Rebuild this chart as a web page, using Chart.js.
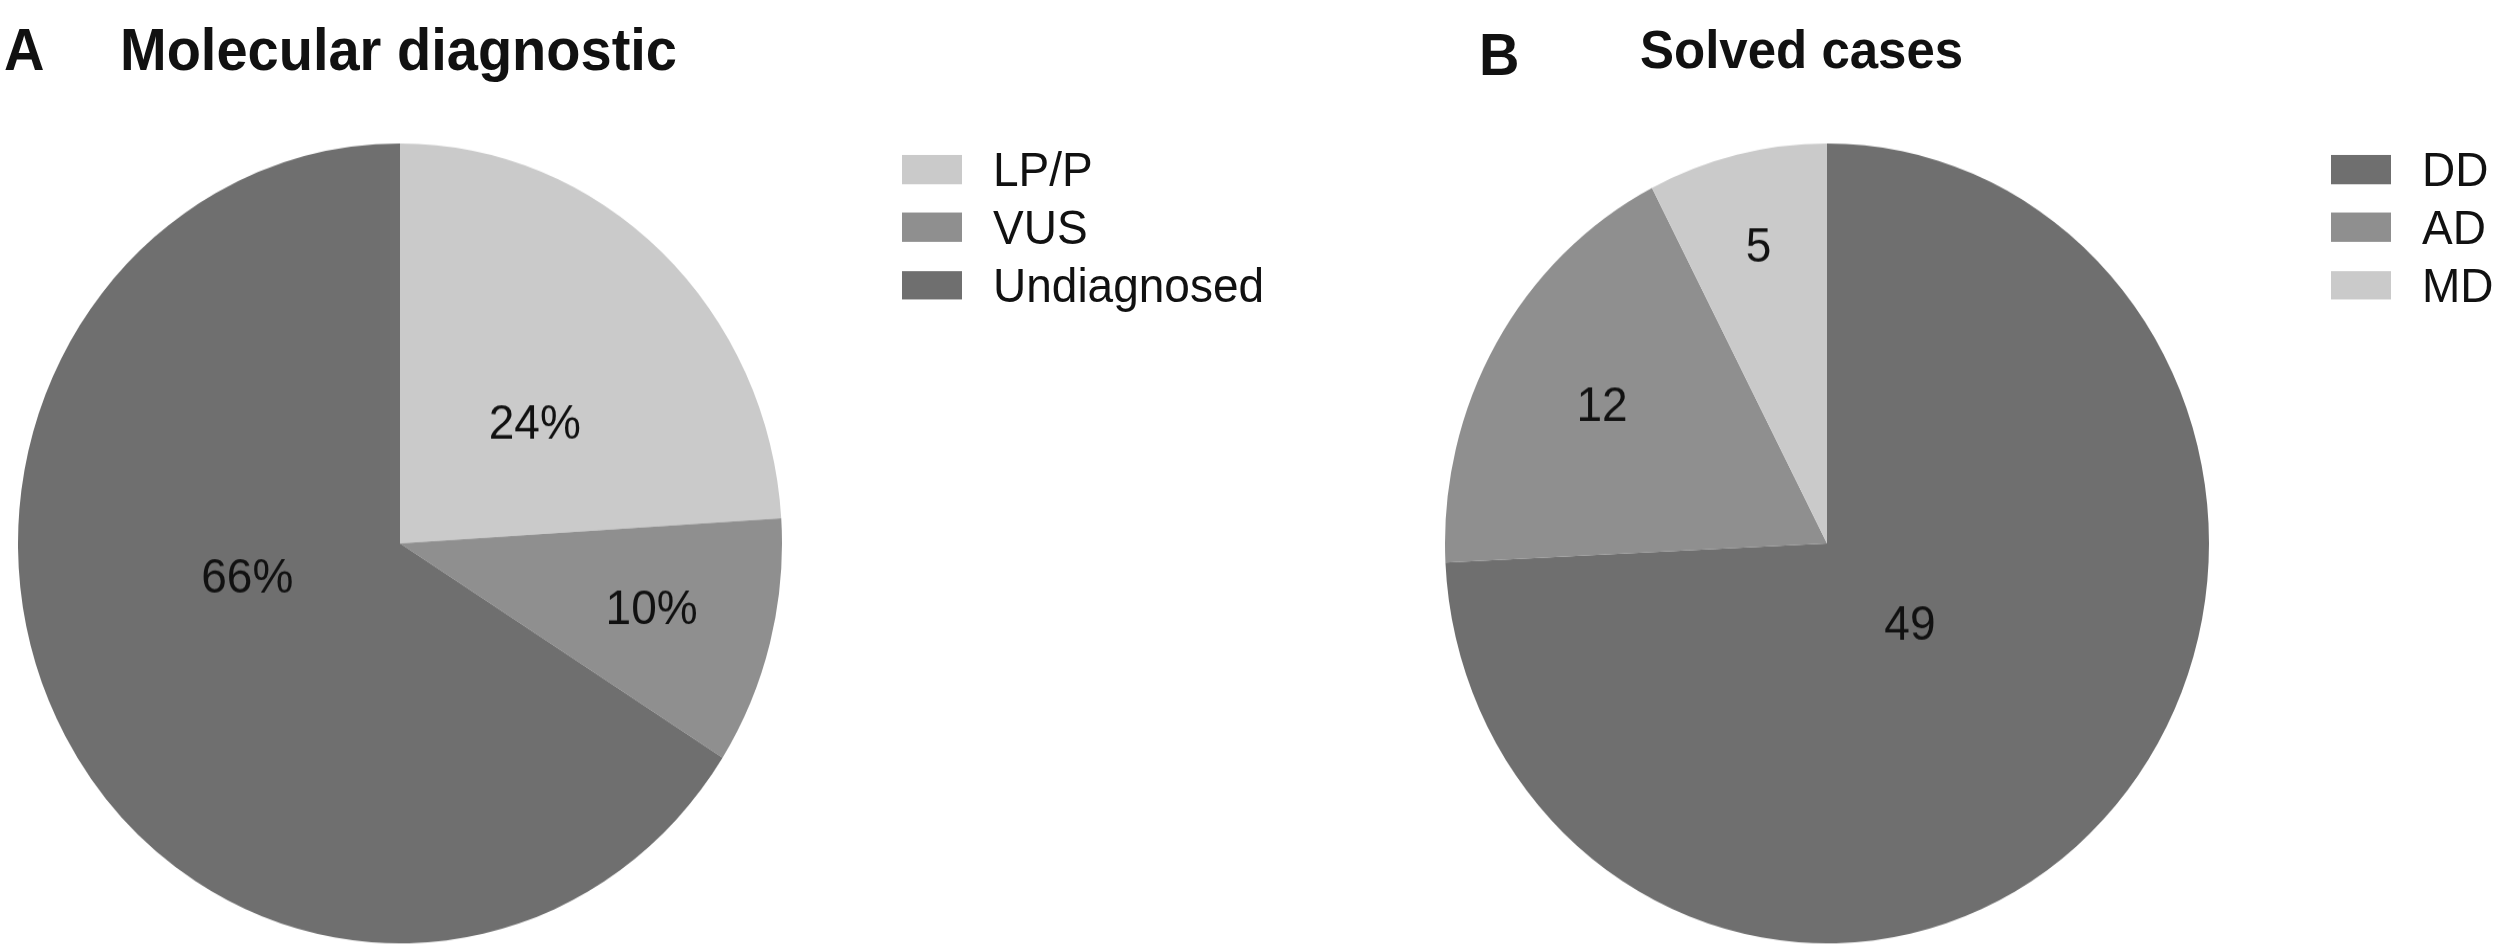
<!DOCTYPE html>
<html>
<head>
    <title>Molecular diagnostic / Solved cases</title>
    <script src="https://cdn.jsdelivr.net/npm/chart.js"></script>
    <style>
      html, body { margin: 0; background: #fff; overflow: hidden; font-family: "Liberation Sans", Arial, sans-serif; }
      #outer { position: relative; width: 2500px; height: 949px; overflow: hidden; }
      #page { position: absolute; left: 0; top: 0; width: 2500px; height: 906px; transform: scaleY(1.047); transform-origin: 0 0; }
      .head { position: absolute; font-weight: bold; color: #111; line-height: 1; white-space: nowrap; }
      .legend { position: absolute; font-size: 46px; color: #111; }
      .legend div { height: 55.4px; display: flex; align-items: center; white-space: nowrap; }
      .legend span.box { display: inline-block; width: 60px; height: 27.7px; margin-right: 31px; }
      canvas { position: absolute; }
    </style>
</head>
<body>
<div id="outer">
<div id="page">
    <div class="head" style="left:4px; top:19.5px; font-size:56px;">A</div>
    <div class="head" style="left:120px; top:19.5px; font-size:56px;">Molecular diagnostic</div>
    <div class="head" style="left:1479px; top:25px; font-size:56px;">B</div>
    <div class="head" style="left:1640px; top:22px; font-size:51px;">Solved cases</div>

    <canvas id="chartA" width="768" height="768" style="left:16px; top:135px;"></canvas>
    <canvas id="chartB" width="768" height="768" style="left:1443px; top:135px;"></canvas>

    <div class="legend" id="legendA" style="left:902px; top:134px;"></div>
    <div class="legend" id="legendB" style="left:2331px; top:134px;"></div>
</div>
</div>

<script>
    // panel A
    const diagLabels = ['LP/P', 'VUS', 'Undiagnosed'];
    const diagValues = [24, 10, 66];
    const diagText = ['24%', '10%', '66%'];
    const diagColors = ['#cacaca', '#8f8f8f', '#6f6f6f'];

    // panel B
    const solvedLabels = ['DD', 'AD', 'MD'];
    const solvedValues = [49, 12, 5];
    const solvedText = ['49', '12', '5'];
    const solvedColors = ['#6f6f6f', '#8f8f8f', '#cacaca'];

    // where the value sits inside each slice (fraction of radius, angle shift in rad)
    const diagLabelPos = [[0.46, 0.12], [0.68, 0], [0.41, 0.28]];
    const solvedLabelPos = [[0.30, 0], [0.68, 0], [0.76, 0]];

    const sliceText = {
      id: 'sliceText',
      afterDatasetsDraw(chart, args, opts) {
        const ctx = chart.ctx;
        const arcs = chart.getDatasetMeta(0).data;
        ctx.save();
        ctx.font = '46px "Liberation Sans", Arial, sans-serif';
        ctx.fillStyle = '#111';
        ctx.textAlign = 'center';
        ctx.textBaseline = 'middle';
        arcs.forEach((arc, i) => {
          const p = arc.getProps(['x', 'y', 'startAngle', 'endAngle', 'outerRadius'], true);
          const mid = (p.startAngle + p.endAngle) / 2 + opts.pos[i][1];
          const r = p.outerRadius * opts.pos[i][0];
          ctx.fillText(opts.text[i], p.x + Math.cos(mid) * r, p.y + Math.sin(mid) * r);
        });
        ctx.restore();
      }
    };

    function makePie(id, labels, values, colors, text, pos) {
      return new Chart(document.getElementById(id), {
        type: 'pie',
        data: {
          labels: labels,
          datasets: [{
            data: values,
            backgroundColor: colors,
            borderWidth: 0
          }]
        },
        options: {
          responsive: false,
          animation: false,
          layout: { padding: 2 },
          plugins: {
            legend: { display: false },
            tooltip: { enabled: false },
            sliceText: { text: text, pos: pos }
          }
        },
        plugins: [sliceText]
      });
    }

    function makeLegend(id, labels, colors) {
      const box = document.getElementById(id);
      labels.forEach((lab, i) => {
        const row = document.createElement('div');
        const sw = document.createElement('span');
        sw.className = 'box';
        sw.style.background = colors[i];
        row.appendChild(sw);
        row.appendChild(document.createTextNode(lab));
        box.appendChild(row);
      });
    }

    makePie('chartA', diagLabels, diagValues, diagColors, diagText, diagLabelPos);
    makePie('chartB', solvedLabels, solvedValues, solvedColors, solvedText, solvedLabelPos);
    makeLegend('legendA', diagLabels, diagColors);
    makeLegend('legendB', solvedLabels, solvedColors);
</script>
</body>
</html>
